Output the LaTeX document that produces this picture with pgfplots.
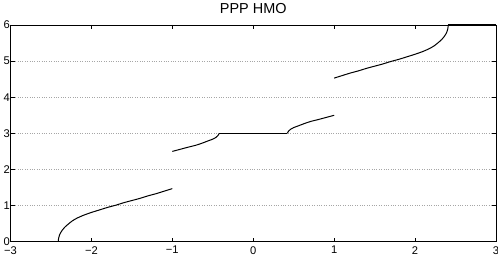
\documentclass[border=0pt]{standalone}
\usepackage{pgfplots}
\pgfplotsset{compat=1.18}
\usepackage{fontspec}
\setmainfont{Liberation Sans}
\begin{document}
\begin{tikzpicture}
\begin{axis}[
  scale only axis,
  width=485.5bp, height=216.7bp,
  at={(0,0)}, anchor=south west,
  xmin=-3, xmax=3, ymin=0, ymax=6,
  xtick={-3,-2,-1,0,1,2,3},
  xticklabels={−3,−2,−1,0,1,2,3},
  ytick={0,1,2,3,4,5,6},
  yticklabels={0,1,2,3,4,5,6},
  tick align=inside,
  major tick length=4bp,
  tick style={black, line width=0.6bp},
  axis line style={black, line width=0.8bp},
  ymajorgrids,
  grid style={dotted, gray!70, line width=0.5bp},
  ticklabel style={font=\fontsize{11.2}{13}\selectfont},
  xticklabel style={yshift=-1bp},
  yticklabel style={xshift=2.8bp},
  title={PPP HMO},
  title style={at={(0.5,1)}, anchor=south, yshift=2bp, font=\fontsize{14.5}{17}\selectfont},
  clip=false,
]
% segment 1
\addplot[black, line width=1bp] coordinates {(-3,0) (-2.41,0)};
\addplot[black, line width=1bp, smooth] coordinates {
(-2.41,0) (-2.405,0.1) (-2.395,0.18) (-2.38,0.25) (-2.36,0.32) (-2.33,0.40)
(-2.29,0.48) (-2.24,0.57) (-2.18,0.65) (-2.10,0.73) (-2.0,0.81) (-1.9,0.88)
(-1.8,0.95) (-1.7,1.01) (-1.6,1.08) (-1.5,1.14) (-1.4,1.20) (-1.3,1.27)
(-1.2,1.33) (-1.1,1.40) (-1.0,1.47)};
% segment 2
\addplot[black, line width=1bp, smooth] coordinates {
(-1.0,2.5) (-0.9,2.56) (-0.8,2.62) (-0.71,2.67) (-0.63,2.73) (-0.56,2.79)
(-0.50,2.84) (-0.46,2.89) (-0.44,2.93) (-0.43,2.96) (-0.42,3.0)};
\addplot[black, line width=1bp] coordinates {(-0.42,3) (0.42,3)};
\addplot[black, line width=1bp, smooth] coordinates {
(0.42,3.0) (0.43,3.04) (0.44,3.07) (0.46,3.11) (0.50,3.16) (0.56,3.21)
(0.63,3.27) (0.71,3.33) (0.8,3.38) (0.9,3.44) (1.0,3.5)};
% segment 3
\addplot[black, line width=1bp, smooth] coordinates {
(1.0,4.53) (1.1,4.60) (1.2,4.67) (1.3,4.73) (1.4,4.80) (1.5,4.86) (1.6,4.92)
(1.7,4.99) (1.8,5.05) (1.9,5.12) (2.0,5.19) (2.10,5.27) (2.18,5.35) (2.24,5.43)
(2.29,5.52) (2.33,5.60) (2.36,5.68) (2.38,5.75) (2.395,5.82) (2.405,5.90) (2.41,6)};
\addplot[black, line width=1bp] coordinates {(2.41,6) (3,6)};
\end{axis}
\pgfresetboundingbox
\path[use as bounding box] (-10.5bp,-13.3bp) rectangle (487.5bp,241.7bp);
\end{tikzpicture}
\end{document}
